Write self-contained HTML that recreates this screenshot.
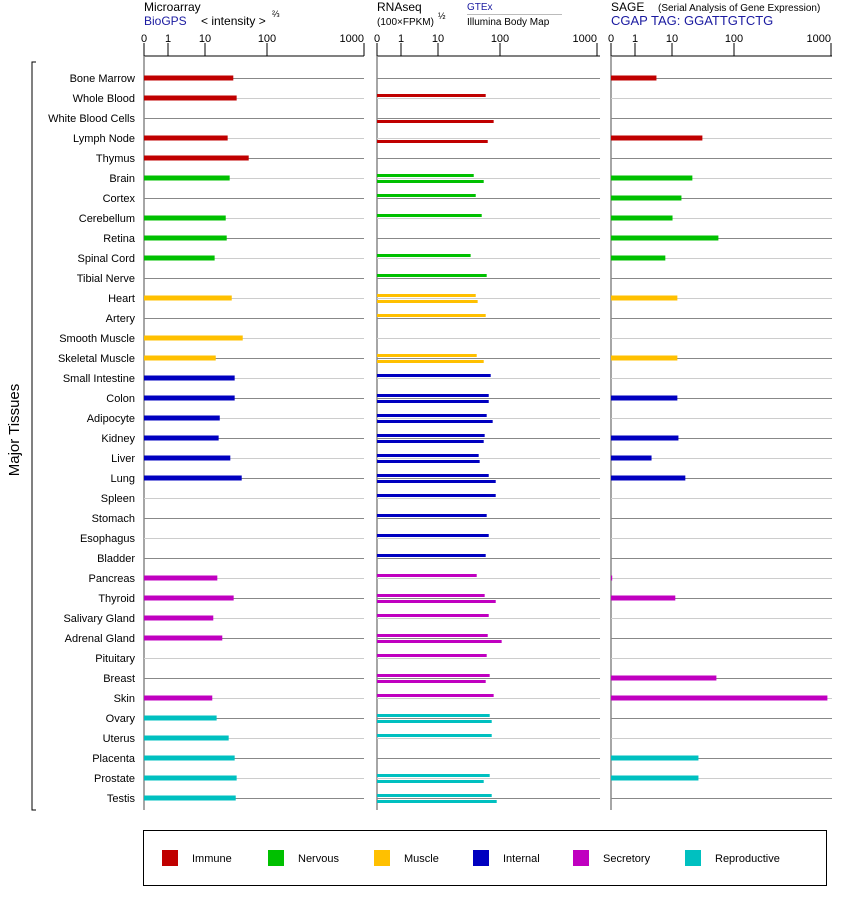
<!DOCTYPE html>
<html><head><meta charset="utf-8"><style>
html,body{margin:0;padding:0;background:#fff;}
svg{display:block;font-family:"Liberation Sans",Arial,sans-serif;}
</style></head><body>
<svg id="chart" width="842" height="900" viewBox="0 0 842 900">
<g id="headers">
<text x="144" y="11" font-size="12">Microarray</text>
<text x="144" y="25" font-size="12" fill="#1a1aa0">BioGPS</text>
<text x="201" y="25" font-size="12">&lt; intensity &gt;</text>
<text x="272" y="17" font-size="9">⅔</text>
<text x="377" y="11" font-size="12">RNAseq</text>
<text x="377" y="25" font-size="10">(100×FPKM)</text>
<text x="438" y="19" font-size="9">½</text>
<text x="467" y="10" font-size="10" fill="#1a1aa0">GTEx</text>
<line x1="467" y1="14.5" x2="562" y2="14.5" stroke="#bbb" stroke-width="1"/>
<text x="467" y="25" font-size="10">Illumina Body Map</text>
<text x="611" y="11" font-size="12">SAGE</text>
<text x="658" y="11" font-size="10">(Serial Analysis of Gene Expression)</text>
<text x="611" y="25" font-size="13" fill="#1a1aa0">CGAP TAG: GGATTGTCTG</text>
</g>
<g id="axes"></g>
<g id="grid"></g>
<g id="bars"></g>
<g id="labels"></g>
<path d="M36 62 H32 V810 H36" fill="none" stroke="#000" stroke-width="1"/>
<text transform="translate(19,430) rotate(-90)" text-anchor="middle" font-size="15">Major Tissues</text>
<g id="legend">
<rect x="143.5" y="830.5" width="683" height="55" fill="none" stroke="#000" stroke-width="1"/>
</g>
</svg>
<script>
const tissues = ["Bone Marrow","Whole Blood","White Blood Cells","Lymph Node","Thymus","Brain","Cortex","Cerebellum","Retina","Spinal Cord","Tibial Nerve","Heart","Artery","Smooth Muscle","Skeletal Muscle","Small Intestine","Colon","Adipocyte","Kidney","Liver","Lung","Spleen","Stomach","Esophagus","Bladder","Pancreas","Thyroid","Salivary Gland","Adrenal Gland","Pituitary","Breast","Skin","Ovary","Uterus","Placenta","Prostate","Testis"];
const tissueGroup = [0,0,0,0,0,1,1,1,1,1,1,2,2,2,2,3,3,3,3,3,3,3,3,3,3,4,4,4,4,4,4,4,5,5,5,5,5];
const groupNames = ["Immune","Nervous","Muscle","Internal","Secretory","Reproductive"];
const groupColors = ["#c00000","#00c000","#ffc000","#0000c0","#c000c0","#00c0c0"];
const tickValues = [0,1,10,100,1000];
const tickLabels = ["0","1","10","100","1000"];
const microarray = [28.6,32.4,null,23.2,50.7,25,null,21.6,22.4,14.3,null,27,null,40.6,14.9,30.1,30.1,17.3,16.6,25.6,39.1,null,null,null,null,15.8,29,13.6,19,null,null,13.1,15.4,24.1,30.1,32.4,31.3];
const rnaGtex = [null,58.8,null,null,null,37.7,40.6,50.7,null,33.6,61,40.6,58.8,null,42.1,70.8,65.8,61,56.6,45.3,65.8,85.3,61,65.8,58.8,42.1,56.6,65.8,63.4,61,68.2,79,68.2,73.5,null,68.2,73.5];
const rnaIllumina = [null,null,79,63.4,null,54.6,null,null,null,null,null,43.6,null,null,54.6,null,65.8,76.2,54.6,47,85.3,null,null,null,null,null,85.3,null,104,null,58.8,null,73.5,null,null,54.6,88.5];
const sage = [3.8,null,null,30.9,null,21.3,14.2,10.2,56,6.6,null,12.2,null,null,12.2,null,12.2,null,12.7,2.8,16.4,null,null,null,null,0.05,11.3,null,null,null,52,918,null,null,26.7,26.7,null];

const NS = "http://www.w3.org/2000/svg";
function mk(tag, attrs, parent){const e=document.createElementNS(NS,tag);for(const k in attrs)e.setAttribute(k,attrs[k]);parent.appendChild(e);return e;}
function scaleOffset(v){
  if(v<=0) return 0;
  if(v<=1) return 24*v;
  const L=Math.log10(v);
  if(L<=1) return 24+37*L;
  if(L<=2) return 61+62*(L-1);
  return 123+97*(L-2);
}
function rowY(i){return 78+20*i;}
const panels=[{x0:144,x1:364,name:"microarray"},{x0:377,x1:600,name:"rnaseq"},{x0:611,x1:832,name:"sage"}];
const axes=document.getElementById("axes"), grid=document.getElementById("grid"), bars=document.getElementById("bars"), labels=document.getElementById("labels"), legend=document.getElementById("legend");
const lastY=rowY(tissues.length-1)+12;
panels.forEach(p=>{
  const ax=mk("line",{x1:p.x0,y1:56,x2:p.x1,y2:56,stroke:"#000","stroke-width":1},axes);
  
  
  tickValues.forEach((v,k)=>{
    const x=p.x0+scaleOffset(v);
    const t=mk("line",{x1:x,y1:43,x2:x,y2:56,stroke:"#000","stroke-width":1},axes);
    
    
    const lb=mk("text",{x:x,y:42,"font-size":11,"text-anchor":k===4?"end":"middle"},axes);
    lb.textContent=tickLabels[k];
    
    
  });
  const vl=mk("line",{x1:p.x0,y1:56,x2:p.x0,y2:lastY,stroke:"#888","stroke-width":1.5},grid);
  
  
  tissues.forEach((t,i)=>{
    const y=rowY(i)+0.5;
    const g=mk("line",{x1:p.x0,y1:y,x2:p.x1,y2:y,stroke:i%2===0?"#888":"#ccc","stroke-width":1},grid);
    
    
  });
});
tissues.forEach((t,i)=>{
  const y=rowY(i);
  const tx=mk("text",{x:135,y:y+4,"font-size":11,"text-anchor":"end"},labels);
  tx.textContent=t;
  
  
  const c=groupColors[tissueGroup[i]];
  if(microarray[i]!=null){
    const r=mk("rect",{x:panels[0].x0,y:y-2.5,width:scaleOffset(microarray[i]),height:5,fill:c},bars);
    
    
  }
  if(rnaGtex[i]!=null){
    const r=mk("rect",{x:panels[1].x0,y:y-4,width:scaleOffset(rnaGtex[i]),height:3,fill:c},bars);
    
    
  }
  if(rnaIllumina[i]!=null){
    const r=mk("rect",{x:panels[1].x0,y:y+2,width:scaleOffset(rnaIllumina[i]),height:3,fill:c},bars);
    
    
  }
  if(sage[i]!=null){
    const r=mk("rect",{x:panels[2].x0,y:y-2.5,width:Math.max(1,scaleOffset(sage[i])),height:5,fill:c},bars);
    
    
  }
});
const swX=[162,268,374,473,573,685];
groupNames.forEach((n,k)=>{
  const s=mk("rect",{x:swX[k],y:850,width:16,height:16,fill:groupColors[k]},legend);
  
  
  const t=mk("text",{x:swX[k]+30,y:862,"font-size":11},legend);
  t.textContent=n;
  
  
});
</script>
</body></html>
